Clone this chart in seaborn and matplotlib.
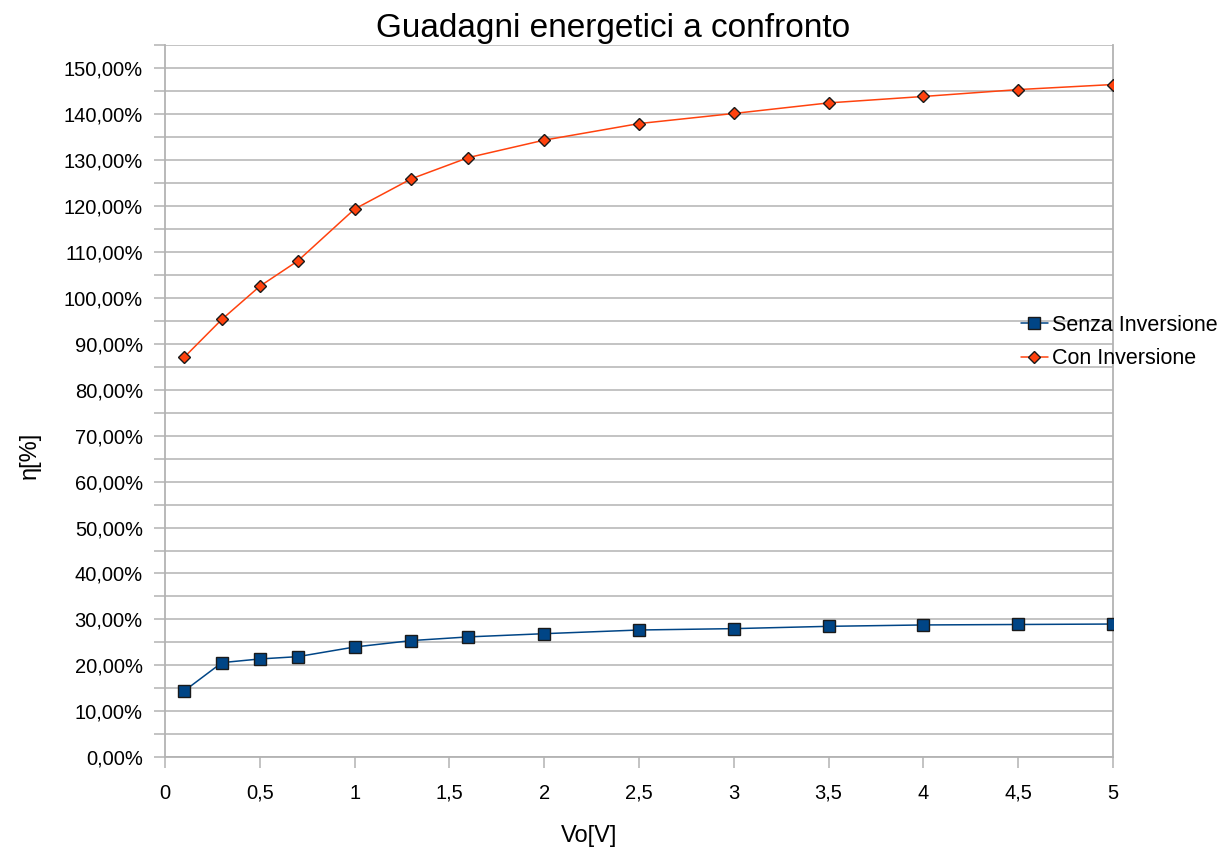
import matplotlib
matplotlib.use("Agg")
import matplotlib.pyplot as plt
import seaborn as sns
import pandas as pd
from matplotlib.ticker import MultipleLocator, FuncFormatter

vo = [0.1, 0.3, 0.5, 0.7, 1.0, 1.3, 1.6, 2.0, 2.5, 3.0, 3.5, 4.0, 4.5, 5.0]
senza = [14.4, 20.6, 21.4, 21.9, 24.0, 25.4, 26.2, 26.9, 27.7, 28.0, 28.5, 28.8, 28.9, 29.0]
con = [87.0, 95.3, 102.5, 108.0, 119.3, 125.9, 130.5, 134.3, 137.9, 140.1, 142.4, 143.8, 145.3, 146.4]
series_names = ["Senza Inversione", "Con Inversione"]
title = "Guadagni energetici a confronto"
xlabel = "Vo[V]"
ylabel = "η[%]"

sns.set_theme(style="white")
plt.rcParams['font.family'] = ['Liberation Sans', 'DejaVu Sans']
plt.rcParams['text.color'] = 'black'

fig = plt.figure(figsize=(12.21, 8.52), dpi=100)
ax = fig.add_axes([165/1221, 1-757.3/852, (1113-165)/1221, (757.3-45)/852])

grid_c = "#b3b3b3"
df1 = pd.DataFrame({"x": vo, "y": senza})
df2 = pd.DataFrame({"x": vo, "y": con})
sns.lineplot(data=df1, x="x", y="y", ax=ax, color="#004586", lw=1.1, marker="s",
             markersize=8, markeredgecolor="#1a1a1a", markeredgewidth=1.0,
             label=series_names[0], zorder=3, legend=False)
sns.lineplot(data=df2, x="x", y="y", ax=ax, color="#ff420e", lw=1.1, marker="D",
             markersize=6, markeredgecolor="#1a1a1a", markeredgewidth=1.0,
             label=series_names[1], zorder=3, legend=False)

ax.set_xlim(0, 5)
ax.set_ylim(0, 155)
ax.xaxis.set_major_locator(MultipleLocator(0.5))
ax.yaxis.set_major_locator(MultipleLocator(10))
ax.yaxis.set_minor_locator(MultipleLocator(5))
ax.xaxis.set_major_formatter(FuncFormatter(lambda v, p: ("%g" % v).replace(".", ",")))
ax.yaxis.set_major_formatter(FuncFormatter(lambda v, p: ("%.2f%%" % v).replace(".", ",")))
ax.grid(True, which="both", axis="y", color=grid_c, lw=1.1)
ax.set_axisbelow(True)
ax.spines["top"].set_visible(False)
for s in ["left", "bottom", "right"]:
    ax.spines[s].set_color(grid_c)
    ax.spines[s].set_linewidth(1.3)
ax.tick_params(axis="both", which="both", direction="out", color=grid_c, width=1.1,
               labelsize=14.5, labelcolor="black")
ax.tick_params(axis="y", which="both", length=8, left=True, pad=8)
ax.tick_params(axis="x", which="major", length=8, bottom=True, pad=11)
ax.set_xlabel("")
ax.set_ylabel("")

fig.text(613/1221, 1-29/852, title, ha="center", va="center", fontsize=24, color="black")
fig.text(589/1221, 1-836/852, xlabel, ha="center", va="center", fontsize=17, color="black")
fig.text(30/1221, 1-455/852, ylabel, ha="center", va="center", fontsize=17, rotation=90,
         color="black")

handles, labels = ax.get_legend_handles_labels()
leg = fig.legend(handles, labels, loc="center left", bbox_to_anchor=(1012/1221, 1-342/852),
                 frameon=False, fontsize=15.5, handlelength=1.25, handletextpad=0.2,
                 labelspacing=0.6, borderaxespad=0)
for t in leg.get_texts():
    t.set_color("black")

fig.savefig("out.png", dpi=100)
